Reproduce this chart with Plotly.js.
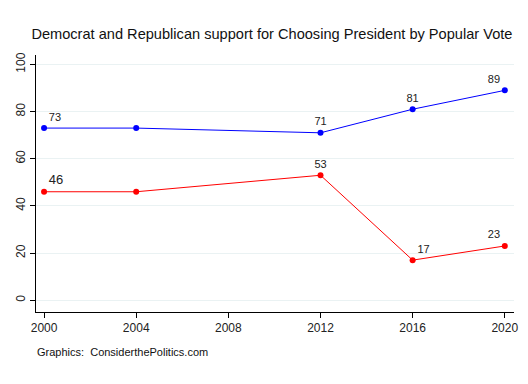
<!DOCTYPE html>
<html>
<head>
<meta charset="utf-8">
<script src="https://cdn.plot.ly/plotly-3.0.1.min.js"></script>
<style>html,body{margin:0;padding:0;background:#fff;}#chart{width:528px;height:384px;}</style>
</head>
<body>
<div id="chart"></div>
<script>
const years = [2000, 2004, 2012, 2016, 2020];
const democrat = [73, 73, 71, 81, 89];
const republican = [46, 46, 53, 17, 23];
const demLabels = ['73', '', '71', '81', '89'];
const repLabels = ['46', '', '53', '17', '23'];
const xTicks = [2000, 2004, 2008, 2012, 2016, 2020];
const yTicks = [0, 20, 40, 60, 80, 100];

const font = 'Liberation Sans, Arial, sans-serif';
const traces = [
  {
    x: years, y: democrat, text: demLabels, name: 'Democrat',
    mode: 'lines+markers+text', type: 'scatter',
    line: {color: '#0000ff', width: 1}, marker: {color: '#0000ff', size: 6},
    textposition: ['top right', 'top center', 'top center', 'top center', 'top left'],
    textfont: {family: font, size: 11, color: '#222'}, cliponaxis: false
  },
  {
    x: years, y: republican, text: repLabels, name: 'Republican',
    mode: 'lines+markers+text', type: 'scatter',
    line: {color: '#ff0000', width: 1}, marker: {color: '#ff0000', size: 6},
    textposition: ['top right', 'top center', 'top center', 'top right', 'top left'],
    textfont: {family: font, size: [13, 11, 11, 11, 11], color: '#222'}, cliponaxis: false
  }
];
const layout = {
  width: 528, height: 384,
  margin: {l: 36, r: 14, t: 55, b: 72},
  paper_bgcolor: '#fff', plot_bgcolor: '#fff',
  showlegend: false,
  font: {family: font, color: '#222'},
  title: {text: 'Democrat and Republican support for Choosing President by Popular Vote',
    font: {family: font, size: 14.6, color: '#111'}, x: 0.515, xanchor: 'center', y: 0.913, yanchor: 'middle'},
  xaxis: {range: [1999.65, 2020.4], tickvals: xTicks, ticktext: xTicks.map(String),
    showgrid: false, zeroline: false, showline: true, linecolor: '#000', linewidth: 1,
    ticks: 'outside', ticklen: 5, tickcolor: '#000', tickfont: {size: 12, family: font}},
  yaxis: {range: [-5, 104], tickvals: yTicks, ticktext: yTicks.map(String), tickangle: -90,
    showgrid: true, gridcolor: '#eaf2f3', gridwidth: 1, zeroline: false,
    showline: true, linecolor: '#000', linewidth: 1,
    ticks: 'outside', ticklen: 5, tickcolor: '#000', tickfont: {size: 12, family: font}},
  annotations: [{text: 'Graphics:  ConsiderthePolitics.com', xref: 'paper', yref: 'paper',
    x: -0.002, y: -0.155, xanchor: 'left', yanchor: 'middle', showarrow: false,
    font: {family: font, size: 11, color: '#111'}}]
};
Plotly.newPlot('chart', traces, layout, {staticPlot: true, displayModeBar: false});
</script>
</body>
</html>
